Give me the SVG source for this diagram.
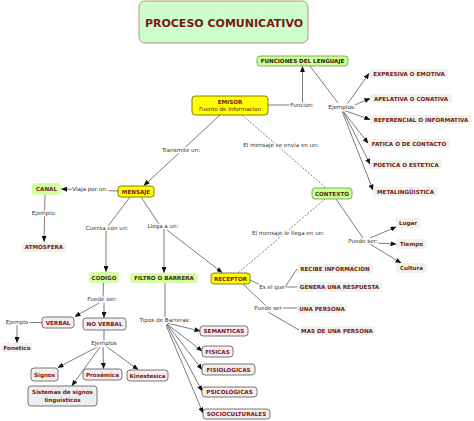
<svg xmlns="http://www.w3.org/2000/svg" width="474" height="421" viewBox="0 0 474 421">
<style>
text{font-family:"DejaVu Sans",Verdana,sans-serif;text-anchor:middle}
.t{font-size:5.6px;font-weight:bold;fill:#7a1616}
.td{font-size:5.6px;font-weight:bold;fill:#4a2a08}
.lb{font-size:5.6px;fill:#333;stroke:#fff;stroke-width:2.5px;paint-order:stroke;stroke-linejoin:round}
.y{fill:#ffff00;stroke:#6b5a00;stroke-width:0.8}
.g{fill:#ccff99;stroke:#6f9a40;stroke-width:0.8}
.gs{fill:#d2ffa6}
.p{fill:#eef4ec}
.w{fill:#f5eff1;stroke:#555;stroke-width:0.8}
.c line,.c path{stroke:#444;stroke-width:0.7;fill:none}
.c .d{stroke-dasharray:2,1.5}
.c .a{marker-end:url(#ar)}
</style>
<defs>
<marker id="ar" markerWidth="6" markerHeight="5" refX="5.5" refY="2.5" orient="auto" markerUnits="userSpaceOnUse"><path d="M0,0 L6,2.5 L0,5 z" fill="#111"/></marker>
</defs>

<g id="connectors" class="c">
<line x1="268" y1="105" x2="302" y2="105"/>
<line class="a" x1="302.5" y1="103" x2="302.5" y2="66.5"/>
<line x1="310" y1="66" x2="338" y2="103"/>
<line class="a" x1="343" y1="110" x2="369" y2="73.5"/>
<line class="a" x1="343" y1="110" x2="370" y2="98.5"/>
<line class="a" x1="343" y1="110" x2="370" y2="119.5"/>
<line class="a" x1="343" y1="111" x2="368" y2="143"/>
<line class="a" x1="343" y1="111" x2="370" y2="164"/>
<line class="a" x1="342" y1="111" x2="373" y2="190"/>
<line class="a" x1="220" y1="115" x2="144" y2="185.5"/>
<line class="d" x1="242" y1="115" x2="326" y2="188"/>
<line class="d" x1="325" y1="199" x2="238" y2="273"/>
<line x1="336" y1="199" x2="363" y2="238"/>
<line class="a" x1="370" y1="238" x2="396" y2="227"/>
<line class="a" x1="376" y1="243" x2="396" y2="244"/>
<line class="a" x1="370" y1="244" x2="401" y2="263"/>
<line class="a" x1="118" y1="191" x2="61.5" y2="189"/>
<line class="a" x1="45" y1="195" x2="44" y2="241.5"/>
<line x1="130" y1="197" x2="108" y2="226"/>
<line class="a" x1="106" y1="230" x2="106" y2="271.5"/>
<line x1="141" y1="197" x2="159" y2="224"/>
<line class="a" x1="164" y1="229" x2="164" y2="272.5"/>
<line class="a" x1="167" y1="230" x2="222" y2="272.5"/>
<line x1="250" y1="280" x2="262" y2="286"/>
<line x1="285" y1="287" x2="297" y2="269"/>
<line x1="283" y1="287" x2="297" y2="287"/>
<line x1="243" y1="284" x2="266" y2="306"/>
<line x1="281" y1="308" x2="297" y2="308"/>
<line x1="268" y1="312" x2="299" y2="330"/>
<line x1="103.5" y1="283" x2="103" y2="298"/>
<line class="a" x1="99" y1="303" x2="75" y2="316.5"/>
<line class="a" x1="104" y1="303" x2="104" y2="317.5"/>
<line x1="42" y1="322.5" x2="24" y2="322.5"/>
<line class="a" x1="17" y1="325" x2="17" y2="342.5"/>
<line x1="104" y1="330" x2="104" y2="342"/>
<line class="a" x1="97" y1="347" x2="58" y2="367.5"/>
<line class="a" x1="103" y1="347" x2="103.5" y2="368.5"/>
<line class="a" x1="107" y1="347" x2="138" y2="369.5"/>
<line class="a" x1="100" y1="347" x2="72" y2="385.5"/>
<line x1="165" y1="283" x2="165" y2="320"/>
<line class="a" x1="167" y1="323" x2="200" y2="331"/>
<line class="a" x1="167" y1="324" x2="202" y2="351"/>
<line class="a" x1="167" y1="324" x2="202" y2="369.5"/>
<line class="a" x1="167" y1="325" x2="202" y2="391"/>
<line class="a" x1="166" y1="325" x2="203" y2="413"/>
</g>

<g id="labels">
<text class="lb" x="302" y="107">Funcion:</text>
<text class="lb" x="342" y="109">Ejemplos:</text>
<text class="lb" x="181" y="152">Transmite un:</text>
<text class="lb" x="281" y="147">El mensaje se envia en un:</text>
<text class="lb" x="288" y="235">El mensaje le llega en un:</text>
<text class="lb" x="363" y="243">Puede ser:</text>
<text class="lb" x="90" y="191">Viaja por un:</text>
<text class="lb" x="44" y="215">Ejemplo:</text>
<text class="lb" x="107" y="230">Cuenta con un:</text>
<text class="lb" x="163" y="228">Llega a un:</text>
<text class="lb" x="272" y="289">Es el que</text>
<text class="lb" x="268" y="310">Puede ser</text>
<text class="lb" x="102" y="301">Puede ser:</text>
<text class="lb" x="17" y="324">Ejemplo</text>
<text class="lb" x="104" y="345">Ejemplos</text>
<text class="lb" x="165" y="322">Tipos de Barreras:</text>
</g>

<g id="title"><rect x="139" y="1" width="169" height="42" rx="6" fill="#ccffcc" stroke="#b37a5e" stroke-width="0.8"/><text x="224" y="26.5" style="font-size:11px;font-weight:bold;fill:#7a1616">PROCESO COMUNICATIVO</text></g>
<g id="funciones"><rect class="g" x="257" y="56" width="91" height="10" rx="3"/><text class="td" x="302.5" y="63.2" style="fill:#332200">FUNCIONES DEL LENGUAJE</text></g>
<g id="emisor"><rect class="y" x="192" y="96" width="76" height="19" rx="3"/><text class="t" x="230" y="103.5">EMISOR</text><text x="230" y="111" style="font-size:5.5px;fill:#5a1a10">Fuente de Informacion</text></g>
<g id="expresiva"><rect class="p" x="370" y="69" width="78" height="9" rx="2"/><text class="t" x="409" y="75.5">EXPRESIVA O EMOTIVA</text></g>
<g id="apelativa"><rect class="p" x="370" y="94" width="82" height="9" rx="2"/><text class="t" x="411" y="100.5">APELATIVA O CONATIVA</text></g>
<g id="referencial"><rect class="p" x="370" y="115" width="102" height="9" rx="2"/><text class="t" x="421" y="121.5">REFERENCIAL O INFORMATIVA</text></g>
<g id="fatica"><rect class="p" x="368" y="139" width="82" height="9" rx="2"/><text class="t" x="409" y="145.5">FATICA O DE CONTACTO</text></g>
<g id="poetica"><rect class="p" x="370" y="160" width="72" height="9" rx="2"/><text class="t" x="406" y="166.5">POETICA O ESTETICA</text></g>
<g id="metalinguistica"><rect class="p" x="373" y="187" width="65" height="9" rx="2"/><text class="t" x="405.5" y="193.5">METALINGÜISTICA</text></g>
<g id="contexto"><rect class="g" x="312" y="188" width="40" height="11" rx="3"/><text class="td" x="332" y="196">CONTEXTO</text></g>
<g id="lugar"><rect class="p" x="396" y="218" width="24" height="10" rx="2"/><text class="t" x="408" y="225">Lugar</text></g>
<g id="tiempo"><rect class="p" x="396" y="239" width="31" height="10" rx="2"/><text class="t" x="411.5" y="246">Tiempo</text></g>
<g id="cultura"><rect class="p" x="396" y="263" width="31" height="10" rx="2"/><text class="t" x="411.5" y="270">Cultura</text></g>
<g id="canal"><rect class="gs" x="32" y="183" width="29" height="12" rx="3"/><text class="t" x="46.5" y="191">CANAL</text></g>
<g id="mensaje"><rect class="y" x="118" y="186" width="36" height="11" rx="3"/><text class="t" x="136" y="193.5">MENSAJE</text></g>
<g id="atmosfera"><rect class="p" x="22" y="242" width="44" height="10" rx="2"/><text class="t" x="44" y="249">ATMOSFERA</text></g>
<g id="codigo"><rect class="gs" x="89" y="272" width="30" height="11" rx="3"/><text class="td" x="104" y="279.5">CODIGO</text></g>
<g id="filtro"><rect class="gs" x="130" y="273" width="68" height="10" rx="3"/><text class="td" x="164" y="280">FILTRO O BARRERA</text></g>
<g id="receptor"><rect class="y" x="211" y="273" width="39" height="11" rx="3"/><text class="t" x="230.5" y="280.5">RECEPTOR</text></g>
<g id="recibe"><rect class="p" x="297" y="264" width="76" height="9" rx="2"/><text class="t" x="335" y="270.5">RECIBE INFORMACION</text></g>
<g id="genera"><rect class="p" x="297" y="282" width="85" height="10" rx="2"/><text class="t" x="339.5" y="289">GENERA UNA RESPUESTA</text></g>
<g id="unapersona"><rect class="p" x="297" y="304" width="50" height="9" rx="2"/><text class="t" x="322" y="310.5">UNA PERSONA</text></g>
<g id="masdeuna"><rect class="p" x="299" y="326" width="76" height="9" rx="2"/><text class="t" x="337" y="332.5">MAS DE UNA PERSONA</text></g>
<g id="verbal"><rect class="w" x="42" y="317" width="32" height="11" rx="3"/><text class="t" x="58" y="324.5">VERBAL</text></g>
<g id="noverbal"><rect class="w" x="83" y="318" width="43" height="12" rx="3"/><text class="t" x="104.5" y="326">NO VERBAL</text></g>
<g id="fonetico"><rect class="p" x="2" y="343" width="30" height="9" rx="2"/><text class="t" x="17" y="349.5">Fonetico</text></g>
<g id="signos"><rect class="w" x="31" y="368" width="27" height="13" rx="3"/><text class="t" x="44.5" y="376.5">Signos</text></g>
<g id="proxemica"><rect class="w" x="83" y="369" width="39" height="11" rx="3"/><text class="t" x="102.5" y="376.5">Proxémica</text></g>
<g id="kinestesica"><rect class="w" x="127" y="370" width="41" height="11" rx="3"/><text class="t" x="147.5" y="377.5">Kinestesica</text></g>
<g id="sistemas"><rect class="w" x="28" y="386" width="69" height="20" rx="3" style="fill:#eaf0f2"/><text class="t" x="62.5" y="394">Sistemas de signos</text><text class="t" x="62.5" y="402">linguisticos</text></g>
<g id="semanticas"><rect class="w" x="200" y="326" width="48" height="10" rx="3"/><text class="t" x="224" y="333">SEMANTICAS</text></g>
<g id="fisicas"><rect class="w" x="202" y="346" width="31" height="11" rx="3"/><text class="t" x="217.5" y="353.5">FISICAS</text></g>
<g id="fisiologicas"><rect class="w" x="202" y="364" width="53" height="11" rx="3"/><text class="t" x="228.5" y="371.5">FISIOLOGICAS</text></g>
<g id="psicologicas"><rect class="w" x="202" y="387" width="55" height="10" rx="3"/><text class="t" x="229.5" y="394">PSICOLOGICAS</text></g>
<g id="socioculturales"><rect class="w" x="203" y="409" width="67" height="10" rx="3"/><text class="t" x="236.5" y="416">SOCIOCULTURALES</text></g>
</svg>
